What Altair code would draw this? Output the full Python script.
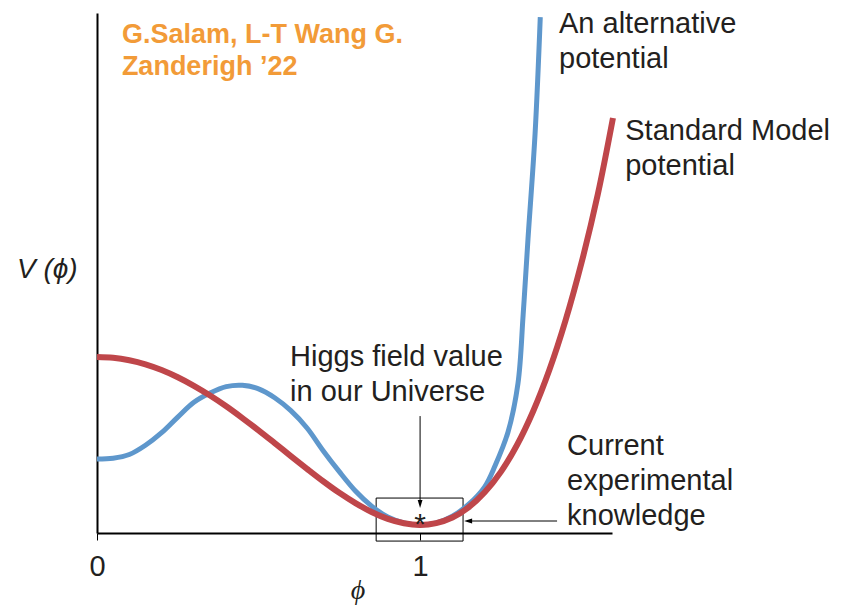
import altair as alt
import pandas as pd

# ---- data ----
red_phi = [0.00, 0.05, 0.10, 0.15, 0.20, 0.25, 0.30, 0.35, 0.40, 0.45, 0.50, 0.55,
           0.60, 0.65, 0.70, 0.75, 0.80, 0.85, 0.90, 0.95, 1.00, 1.05, 1.10, 1.15,
           1.20, 1.25, 1.30, 1.35, 1.40, 1.45, 1.50, 1.55, 1.597]
red_v = [1.048, 1.043, 1.028, 1.004, 0.970, 0.927, 0.876, 0.818, 0.754, 0.684, 0.611, 0.535,
         0.458, 0.382, 0.308, 0.239, 0.178, 0.125, 0.084, 0.058, 0.048, 0.059, 0.092, 0.152,
         0.242, 0.364, 0.524, 0.725, 0.970, 1.264, 1.611, 2.015, 2.47]

blue_phi = [0.00, 0.05, 0.10, 0.15, 0.20, 0.25, 0.30, 0.35, 0.40, 0.45, 0.50, 0.55,
            0.60, 0.65, 0.70, 0.75, 0.80, 0.85, 0.90, 0.95, 1.00, 1.05, 1.10, 1.15,
            1.20, 1.232, 1.272, 1.303, 1.319, 1.334, 1.356, 1.372]
blue_v = [0.440, 0.445, 0.467, 0.522, 0.597, 0.690, 0.778, 0.833, 0.871, 0.879, 0.858, 0.805,
          0.728, 0.625, 0.490, 0.365, 0.250, 0.160, 0.095, 0.060, 0.048, 0.060, 0.100, 0.170,
          0.275, 0.400, 0.600, 0.890, 1.300, 1.750, 2.380, 3.070]

x_ticks = [0, 1]

black_texts = ["An alternative", "potential", "Standard Model", "potential",
               "Higgs field value", "in our Universe",
               "Current", "experimental", "knowledge"]
black_x = [1.430, 1.430, 1.635, 1.635, 0.5975, 0.5975, 1.455, 1.455, 1.455]
black_y = [2.976, 2.768, 2.339, 2.131, 0.994, 0.786, 0.464, 0.256, 0.048]

credit_texts = ["G.Salam, L-T Wang G.", "Zanderigh \u201922"]
credit_x = [0.077, 0.077]
credit_y = [2.917, 2.726]

BLUE = "#5E97CC"
RED = "#BF464A"
ORANGE = "#F29B38"
INK = "#231F20"
FONT = "Liberation Sans"

xs = alt.Scale(domain=[0, 1.594], nice=False, zero=False)
ys = alt.Scale(domain=[0, 3.095], nice=False, zero=False)
xaxis = alt.Axis(values=x_ticks, format="d", title=None, grid=False,
                 domainColor="black", domainWidth=2, tickColor="black", tickWidth=1,
                 tickSize=7, labelFontSize=29, labelFont=FONT, labelColor=INK,
                 labelPadding=12, labelFlush=False, labelOverlap=False)
yaxis = alt.Axis(title=None, grid=False, labels=False, ticks=False,
                 domainColor="black", domainWidth=2)


def X(f):
    return alt.X(f, type="quantitative", scale=xs, axis=xaxis)


def Y(f):
    return alt.Y(f, type="quantitative", scale=ys, axis=yaxis)


red_df = pd.DataFrame({"phi": red_phi, "v": red_v})
blue_df = pd.DataFrame({"phi": blue_phi, "v": blue_v})
black_df = pd.DataFrame({"x": black_x, "y": black_y, "t": black_texts})
credit_df = pd.DataFrame({"x": credit_x, "y": credit_y, "t": credit_texts})

# annotation geometry (data coordinates)
box_df = pd.DataFrame({"x": [0.864], "x2": [1.133], "y": [0.208], "y2": [-0.048]})
vrule_df = pd.DataFrame({"x": [1.0], "y": [0.696], "y2": [0.185]})
hrule_df = pd.DataFrame({"x": [1.160], "x2": [1.424], "y": [0.0714]})
vhead_df = pd.DataFrame({"x": [1.0], "y": [0.173]})
hhead_df = pd.DataFrame({"x": [1.1486], "y": [0.0714]})
star_df = pd.DataFrame({"x": [1.0], "y": [-0.006], "t": ["*"]})
vlab_df = pd.DataFrame({"x": [-0.2477], "y": [1.518], "t": ["V (\u03d5)"]})
xlab_df = pd.DataFrame({"x": [0.808], "y": [-0.393], "t": ["\u03d5"]})

box = alt.Chart(box_df).mark_rect(
    fillOpacity=0, stroke="black", strokeWidth=1
).encode(x=X("x"), x2="x2", y=Y("y"), y2="y2")

blue = alt.Chart(blue_df).mark_line(
    color=BLUE, strokeWidth=5, interpolate="catmull-rom", clip=False
).encode(x=X("phi"), y=Y("v"))

red = alt.Chart(red_df).mark_line(
    color=RED, strokeWidth=6, interpolate="catmull-rom", clip=False
).encode(x=X("phi"), y=Y("v"))

vrule = alt.Chart(vrule_df).mark_rule(color="black", strokeWidth=1).encode(
    x=X("x"), y=Y("y"), y2="y2")
hrule = alt.Chart(hrule_df).mark_rule(color="black", strokeWidth=1).encode(
    x=X("x"), x2="x2", y=Y("y"))
vhead = alt.Chart(vhead_df).mark_point(
    shape="M0,1L-0.6,-1L0.6,-1Z", size=64, filled=True, color="black", opacity=1
).encode(x=X("x"), y=Y("y"))
hhead = alt.Chart(hhead_df).mark_point(
    shape="M-1,0L1,-0.6L1,0.6Z", size=64, filled=True, color="black", opacity=1
).encode(x=X("x"), y=Y("y"))

star = alt.Chart(star_df).mark_text(
    font=FONT, fontSize=30, color=INK, align="center", baseline="alphabetic"
).encode(x=X("x"), y=Y("y"), text="t:N")

black_text = alt.Chart(black_df).mark_text(
    font=FONT, fontSize=29, color=INK, align="left", baseline="alphabetic"
).encode(x=X("x"), y=Y("y"), text="t:N")

credit_text = alt.Chart(credit_df).mark_text(
    font=FONT, fontSize=27, fontWeight="bold", color=ORANGE, align="left",
    baseline="alphabetic"
).encode(x=X("x"), y=Y("y"), text="t:N")

vlab = alt.Chart(vlab_df).mark_text(
    font=FONT, fontSize=28, fontStyle="italic", color=INK, align="left",
    baseline="alphabetic"
).encode(x=X("x"), y=Y("y"), text="t:N")

xlab = alt.Chart(xlab_df).mark_text(
    font="Liberation Serif", fontSize=28, fontStyle="italic", color=INK,
    align="center", baseline="alphabetic"
).encode(x=X("x"), y=Y("y"), text="t:N")

chart = alt.layer(
    box, blue, red, vrule, hrule, vhead, hhead, star,
    black_text, credit_text, vlab, xlab
).properties(
    width=515, height=520,
    autosize=alt.AutoSizeParams(type="none"),
    padding={"left": 89, "top": 5, "right": 224, "bottom": 72},
    background="white",
).configure_view(stroke="transparent")

chart.save("out.html", embed_options={"renderer": "svg", "actions": False})
